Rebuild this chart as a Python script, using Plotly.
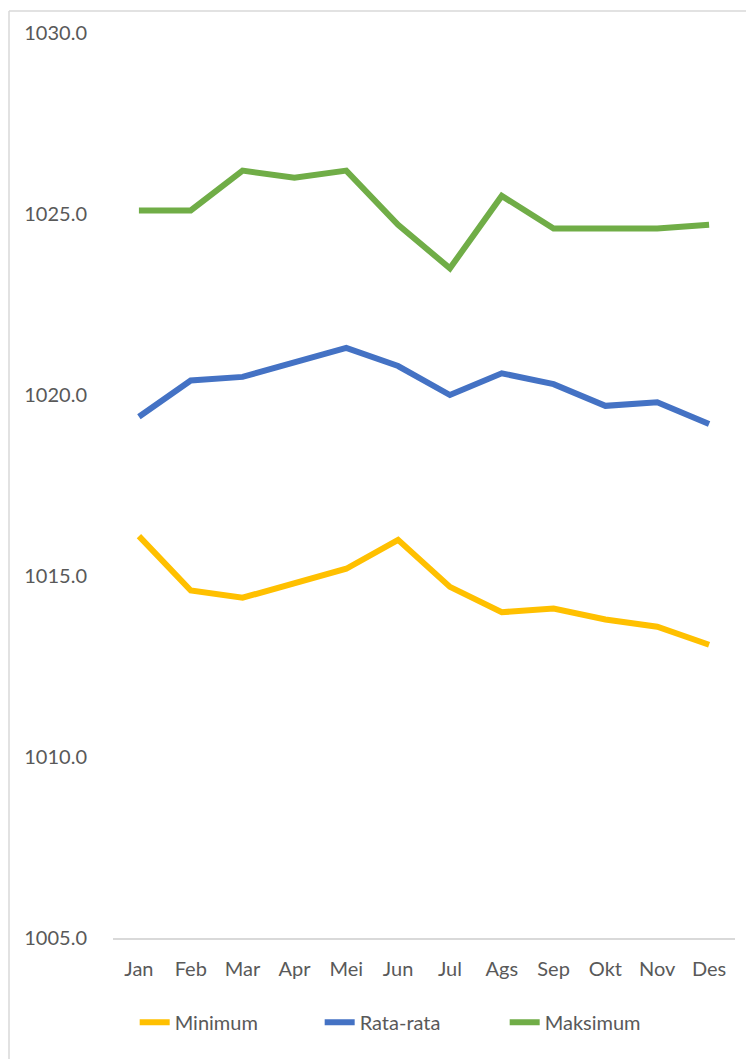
import plotly.graph_objects as go

months = ["Jan", "Feb", "Mar", "Apr", "Mei", "Jun", "Jul", "Ags", "Sep", "Okt", "Nov", "Des"]
minimum = [1016.1, 1014.6, 1014.4, 1014.8, 1015.2, 1016.0, 1014.7, 1014.0, 1014.1, 1013.8, 1013.6, 1013.1]
rata_rata = [1019.4, 1020.4, 1020.5, 1020.9, 1021.3, 1020.8, 1020.0, 1020.6, 1020.3, 1019.7, 1019.8, 1019.2]
maksimum = [1025.1, 1025.1, 1026.2, 1026.0, 1026.2, 1024.7, 1023.5, 1025.5, 1024.6, 1024.6, 1024.6, 1024.7]
y_ticks = [1005, 1010, 1015, 1020, 1025, 1030]

series = [
    ("Minimum", minimum, "#FFC000"),
    ("Rata-rata", rata_rata, "#4472C4"),
    ("Maksimum", maksimum, "#70AD47"),
]

fig = go.Figure()
for name, vals, color in series:
    fig.add_trace(go.Scatter(
        x=months, y=vals, name=name, mode="lines",
        line=dict(color=color, width=6),
    ))

font_family = "Lato, 'Open Sans', sans-serif"
fig.update_layout(
    width=746, height=1051,
    margin=dict(l=105, r=19, t=23, b=121),
    paper_bgcolor="white", plot_bgcolor="white",
    font=dict(family=font_family, size=20, color="#595959"),
    showlegend=True,
    legend=dict(
        orientation="h", x=0.481, xanchor="center", y=-0.093, yanchor="middle",
        font=dict(size=20, color="#595959"), traceorder="normal",
        entrywidth=140, entrywidthmode="pixels",
    ),
    xaxis=dict(
        range=[-0.5, 11.5],
        showgrid=False, showline=True, linecolor="#D9D9D9", linewidth=1.5,
        ticks="", ticklabelstandoff=12, tickfont=dict(size=20, color="#595959"),
        zeroline=False,
    ),
    yaxis=dict(
        range=[1005, 1030], tickvals=y_ticks, tickformat=".1f",
        showgrid=False, showline=False, zeroline=False,
        ticks="", ticklabelstandoff=25, tickfont=dict(size=20, color="#595959"),
    ),
    shapes=[
        dict(type="line", xref="paper", yref="paper", x0=-0.1672, x1=1.04,
             y0=1.0243, y1=1.0243, line=dict(color="#D9D9D9", width=1.5)),
        dict(type="line", xref="paper", yref="paper", x0=-0.1672, x1=-0.1672,
             y0=1.0243, y1=-0.14, line=dict(color="#D9D9D9", width=1.5)),
    ],
)

fig.write_html("out.html")
